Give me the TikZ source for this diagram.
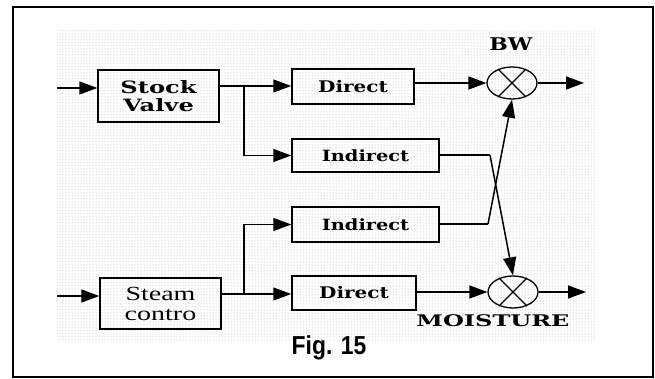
\documentclass[tikz,border=0pt]{standalone}
\usepackage{fontspec}
\usetikzlibrary{shapes.geometric,arrows.meta,patterns}
\newfontfamily\clar[FakeStretch=1.25]{DejaVu Serif}
\newfontfamily\clarw[FakeStretch=1.42]{DejaVu Serif}
\newfontfamily\clarm[FakeStretch=1.5]{DejaVu Serif}
\newfontfamily\stm[FakeStretch=1.4]{Liberation Serif}
\newfontfamily\figf[FakeStretch=0.88]{Liberation Sans}
\tikzset{
  box/.style={draw, line width=1.5pt, inner sep=0pt},
  boxtext/.style={font=\clar\bfseries\fontsize{16pt}{18pt}\selectfont},
  summer/.style={draw, ellipse, line width=1.3pt, minimum width=50pt, minimum height=32pt, inner sep=0pt},
  conn/.style={line width=1.5pt},
  arr/.style={line width=1.5pt, -{Triangle[length=18pt,width=13pt]}},
  lbl/.style={inner sep=0pt}
}
\begin{document}
\begin{tikzpicture}[x=1pt,y=-1pt]
\useasboundingbox (0,0) rectangle (655,379);
\fill[pattern=dots, pattern color=black!30] (57,31) rectangle (596,340);
\draw[line width=2.5pt] (13,7) rectangle (653,377);
% boxes
\node[box, minimum width=121pt, minimum height=52pt, font=\clarw\bfseries\fontsize{17pt}{18pt}\selectfont, align=center] (sv) at (158.5,96) {Stock\\Valve};
\node[box, boxtext, minimum width=122pt, minimum height=35pt] (dt) at (353,86.5) {Direct\hspace{9pt}};
\node[box, boxtext, minimum width=147pt, minimum height=33pt, font=\clar\bfseries\fontsize{15.5pt}{17pt}\selectfont] (it) at (365.5,155.5) {Indirect\hspace{14pt}};
\node[box, boxtext, minimum width=147pt, minimum height=35pt, font=\clar\bfseries\fontsize{15.5pt}{17pt}\selectfont] (ib) at (365.5,224.5) {Indirect\hspace{14pt}};
\node[box, boxtext, minimum width=124pt, minimum height=34pt] (db) at (354,293) {Direct\hspace{9pt}};
\node[box, minimum width=121pt, minimum height=51pt, font=\stm\fontsize{20pt}{20pt}\selectfont, align=center] (st) at (160.5,303.5) {Steam\\contro};
% summing junctions
\node[summer] (bw) at (512,83) {};
\node[summer] (mo) at (513,292) {};
\draw[line width=1.1pt] (bw.45) -- (bw.225) (bw.135) -- (bw.315);
\draw[line width=1.1pt] (mo.45) -- (mo.225) (mo.135) -- (mo.315);
% labels
\node[lbl, font=\clar\bfseries\fontsize{17.5pt}{19pt}\selectfont] (lbw) at (511,44) {BW};
\node[lbl, font=\clarm\bfseries\fontsize{16pt}{18pt}\selectfont] (lmo) at (493,321) {MOISTURE};
\node[lbl, font=\figf\bfseries\fontsize{26pt}{28pt}\selectfont] (fig) at (329,348) {Fig. 15};
% coordinates
\coordinate (in1) at (57,88);
\coordinate (in2) at (57,296);
\coordinate (j1) at (244,86);
\coordinate (j2) at (244,294);
\coordinate (k1) at (490,155);
\coordinate (k2) at (488,224);
\coordinate (o1) at (584,83);
\coordinate (o2) at (586,292);
% connectors
\draw[arr] (in1) -- (sv.west |- in1);
\draw[arr] (in2) -- (st.west |- in2);
\draw[conn] (sv.east |- j1) -- (j1);
\draw[arr] (j1) -- (dt.west |- j1);
\draw[arr] (j1) |- (it.west);
\draw[conn] (st.east |- j2) -- (j2);
\draw[arr] (j2) -- (db.west |- j2);
\draw[arr] (j2) |- (ib.west);
\draw[arr] (dt.east |- bw.west) -- (bw.west);
\draw[arr] (db.east |- mo.west) -- (mo.west);
\draw[arr] (bw.east) -- (o1);
\draw[arr] (mo.east) -- (o2);
\draw[conn] (it.east |- k1) -- (k1);
\draw[arr] (k1) -- (mo.north);
\draw[conn] (ib.east |- k2) -- (k2);
\draw[arr] (k2) -- (bw.south);
\end{tikzpicture}
\end{document}
